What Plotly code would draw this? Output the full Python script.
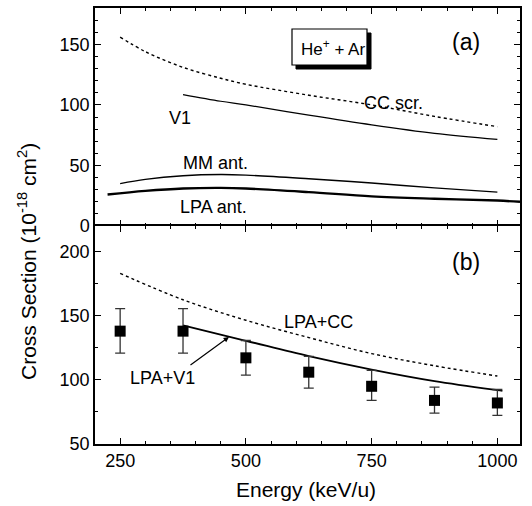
import plotly.graph_objects as go

# ---------------- data ----------------
# panel (a)
cc_scr_E = [250, 300, 375, 450, 500, 625, 750, 875, 1000]
cc_scr_v = [156, 144, 131, 122, 117, 108, 100, 90.5, 82]

v1_E = [375, 450, 500, 625, 750, 875, 1000]
v1_v = [108.5, 103, 100, 91.5, 83.5, 76.5, 71.5]

mm_E = [250, 300, 375, 450, 500, 625, 750, 875, 1000]
mm_v = [35, 38.5, 41.5, 42.5, 42, 39, 35.5, 31.5, 28]

lpa_E = [225, 300, 375, 450, 500, 625, 750, 875, 1000, 1045]
lpa_v = [26, 29, 31, 31.5, 31, 28, 24.5, 22.5, 21, 20]

# panel (b)
lpacc_E = [250, 375, 500, 625, 750, 875, 1000]
lpacc_v = [183, 162.5, 146.5, 133, 120.5, 111, 103]

lpav1_E = [375, 500, 625, 750, 875, 1000, 1010]
lpav1_v = [142.5, 130.5, 118.5, 108, 99, 92, 91.5]

exp_E = [250, 375, 500, 625, 750, 875, 1000]
exp_v = [138, 138, 117.2, 106, 95, 84, 82]
exp_err_plus = [17.5, 17.5, 13.5, 12.3, 12.4, 10.4, 10.5]
exp_err_minus = [17.2, 17.2, 13.5, 12.5, 11.0, 9.9, 9.6]

# ---------------- layout geometry ----------------
W, H = 532, 506
L, R, T, B = 95, 12, 8, 62
PW, PH = W - L - R, H - T - B


def px(xp):
    return (xp - L) / PW


def py(yp):
    return (H - B - yp) / PH


FONT = "Liberation Sans, Arial, Helvetica, sans-serif"

fig = go.Figure()

# top panel
fig.add_trace(go.Scatter(x=cc_scr_E, y=cc_scr_v, mode="lines",
                         line=dict(color="black", width=1.4, dash="dot", shape="spline"), xaxis="x", yaxis="y"))
fig.add_trace(go.Scatter(x=v1_E, y=v1_v, mode="lines",
                         line=dict(color="black", width=1.2, shape="spline"), xaxis="x", yaxis="y"))
fig.add_trace(go.Scatter(x=mm_E, y=mm_v, mode="lines",
                         line=dict(color="black", width=1.4, shape="spline"), xaxis="x", yaxis="y"))
fig.add_trace(go.Scatter(x=lpa_E, y=lpa_v, mode="lines",
                         line=dict(color="black", width=2.4, shape="spline"), xaxis="x", yaxis="y"))
# empty trace so the top-frame axis (x3) is drawn
fig.add_trace(go.Scatter(x=[], y=[], mode="lines", xaxis="x3", yaxis="y", hoverinfo="skip"))

# bottom panel
fig.add_trace(go.Scatter(x=lpacc_E, y=lpacc_v, mode="lines",
                         line=dict(color="black", width=1.4, dash="dot", shape="spline"), xaxis="x2", yaxis="y2"))
fig.add_trace(go.Scatter(x=lpav1_E, y=lpav1_v, mode="lines",
                         line=dict(color="black", width=1.8, shape="spline"), xaxis="x2", yaxis="y2"))
fig.add_trace(go.Scatter(x=exp_E, y=exp_v, mode="markers",
                         marker=dict(symbol="square", size=11, color="black"),
                         error_y=dict(type="data", array=exp_err_plus, arrayminus=exp_err_minus,
                                      color="#333333", thickness=1.3, width=5),
                         xaxis="x2", yaxis="y2"))

base = dict(linecolor="black", linewidth=1.5, ticks="inside", tickcolor="black", tickwidth=1.3,
            showgrid=False, zeroline=False, tickfont=dict(family=FONT, size=18, color="black"))


def minor(dtick, tick0):
    return dict(tickmode="linear", dtick=dtick, tick0=tick0, ticklen=3, ticks="inside",
                tickcolor="black", tickwidth=1.2)


xcommon = dict(range=[200, 1045], tickmode="linear", tick0=250, dtick=250, ticklen=6, minor=minor(50, 200))

fig.update_layout(
    width=W, height=H,
    margin=dict(l=L, r=R, t=T, b=B),
    paper_bgcolor="white", plot_bgcolor="white",
    showlegend=False,
    font=dict(family=FONT, color="black"),
    # top panel: ticks at the divider (no line, the bottom panel's mirror draws it)
    xaxis=dict(domain=[0, 1], anchor="y", side="bottom", showline=False, mirror=False,
               showticklabels=False, **xcommon, **base),
    # top panel: top frame
    xaxis3=dict(overlaying="x", anchor="y", side="top", showline=True, mirror=False,
                showticklabels=False, **xcommon, **base),
    yaxis=dict(domain=[0.5, 1], anchor="x", range=[0, 180], tickmode="linear", dtick=50, tick0=0, ticklen=6,
               showline=True, mirror="ticks", minor=minor(10, 0), **base),
    xaxis2=dict(domain=[0, 1], anchor="y2", showline=True, mirror="ticks", **xcommon, **base),
    yaxis2=dict(domain=[0, 0.5], anchor="x2", range=[50, 220], tickmode="linear", dtick=50, tick0=50, ticklen=6,
                showline=True, mirror="ticks", minor=minor(25, 50), **base),
)

# He+ + Ar box with drop shadow
bx0, bx1, by0, by1 = 292, 367, 29, 65
sh = 4
fig.add_shape(type="rect", xref="paper", yref="paper", x0=px(bx0 + sh), x1=px(bx1 + sh),
              y0=py(by1 + sh), y1=py(by0 + sh), fillcolor="black", line=dict(color="black", width=1), layer="above")
fig.add_shape(type="rect", xref="paper", yref="paper", x0=px(bx0), x1=px(bx1), y0=py(by1), y1=py(by0),
              fillcolor="white", line=dict(color="black", width=1.2), layer="above")


def label(text, x, y, size=18, **kw):
    fig.add_annotation(text=text, xref="paper", yref="paper", x=px(x), y=py(y), showarrow=False,
                       font=dict(family=FONT, size=size, color="black"), xanchor="center", yanchor="middle", **kw)


label("He<sup>+</sup> + Ar", 333, 48, size=17)
label("(a)", 466, 42, size=23)
label("(b)", 466, 262, size=23)
label("CC scr.", 393, 103)
label("V1", 180, 118)
label("MM ant.", 215, 163)
label("LPA ant.", 213, 207)
label("LPA+CC", 318, 322)
label("LPA+V1", 162, 378)

# arrow pointing at the LPA+V1 curve
fig.add_annotation(xref="paper", yref="paper", axref="pixel", ayref="pixel",
                   x=px(229), y=py(337), ax=189 - 229, ay=366 - 337, text="", showarrow=True,
                   arrowhead=2, arrowsize=0.9, arrowwidth=1.2, arrowcolor="black")

# axis titles
label("Cross Section (10<sup>-18</sup> cm<sup>2</sup>)", 27, 262, size=21, textangle=-90)
label("Energy (keV/u)", 306, 490, size=21)

fig.write_html("out.html")
